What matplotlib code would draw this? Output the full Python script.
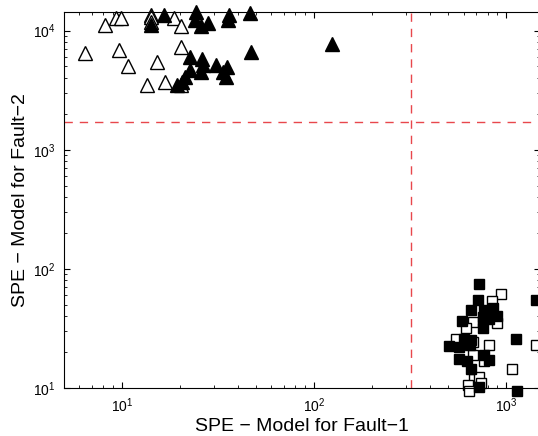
import numpy as np
import matplotlib
matplotlib.use('Agg')
import matplotlib.pyplot as plt

plt.rcParams['font.family'] = ['Liberation Sans', 'DejaVu Sans']
plt.rcParams['mathtext.fontset'] = 'custom'
plt.rcParams['mathtext.rm'] = 'Liberation Sans'

# Fault-2 samples (triangles)
tri_open_x = [6.4, 8.2, 9.3, 9.9, 9.7, 10.8, 13.5, 14.1, 14.1, 14.1, 15.3, 16.8,
              18.6, 20.2, 20.2, 20.4]
tri_open_y = [6470, 11100, 12800, 12700, 6860, 5060, 3480, 13500, 13060, 11860,
              5430, 3690, 12800, 10970, 7310, 3480]
tri_fill_x = [14.1, 16.5, 24.2, 24.1, 25.8, 28.0, 36.0, 35.5, 46.3, 46.9, 124.6,
              22.7, 26.1, 26.4, 22.7, 25.7, 30.9, 35.1, 33.5, 34.9, 21.2, 20.6, 19.4]
tri_fill_y = [11100, 13500, 14400, 12200, 11000, 11560, 13500, 12330, 14160, 6640,
              7710, 6030, 5830, 5130, 4660, 4510, 5130, 4960, 4510, 4090, 4090,
              3670, 3480]

# Fault-1 samples (squares)
sq_fill_x = [726, 711, 656, 771, 851, 589, 755, 818, 893, 755, 1436, 606, 656,
             506, 570, 649, 1127, 566, 622, 771, 818, 656, 726, 1135]
sq_fill_y = [75.2, 55.1, 45.4, 44.8, 47.2, 36.4, 39.4, 38.2, 39.9, 32.2, 55.1,
             25.9, 25.1, 22.4, 22.0, 23.1, 25.9, 17.6, 17.0, 19.0, 17.3, 14.3,
             10.2, 9.5]
sq_open_x = [942, 845, 675, 893, 618, 548, 670, 818, 675, 771, 1075, 684, 719,
             741, 631, 638, 1436]
sq_open_y = [61.9, 53.6, 35.7, 35.1, 32.2, 25.9, 24.3, 22.8, 19.0, 17.0, 14.3,
             11.9, 12.3, 11.1, 10.6, 9.5, 22.8]

# control limits
lim_f1 = 318
lim_f2 = 1710

fig = plt.figure(figsize=(5.38, 4.36), dpi=100)
ax = fig.add_axes([64 / 538, 1 - 388 / 436, (540 - 64) / 538, (388 - 12.5) / 436])

ax.plot(tri_open_x, tri_open_y, '^', ms=9.5, mfc='white', mec='black', mew=1, clip_on=False)
ax.plot(tri_fill_x, tri_fill_y, '^', ms=9.5, mfc='black', mec='black', mew=1, clip_on=False)
ax.plot(sq_open_x, sq_open_y, 's', ms=7, mfc='white', mec='black', mew=1, clip_on=False)
ax.plot(sq_fill_x, sq_fill_y, 's', ms=7, mfc='black', mec='black', mew=1, clip_on=False)

ax.axvline(lim_f1, color='#e8474c', lw=1, dashes=(6, 5))
ax.axhline(lim_f2, color='#e8474c', lw=1, dashes=(6, 5))

ax.set_xscale('log')
ax.set_yscale('log')
ax.set_xlim(5, 1500)
ax.set_ylim(10, 14200)

ax.tick_params(which='both', direction='in', top=True, right=True, labelsize=10)
ax.tick_params(which='major', length=4, width=0.8, pad=6)
ax.tick_params(which='minor', length=2.5, width=0.6)

ax.set_xlabel('SPE \u2212 Model for Fault\u22121', fontsize=14, labelpad=2)
ax.set_ylabel('SPE \u2212 Model for Fault\u22122', fontsize=14, labelpad=3)

fig.savefig('out.png', dpi=100)
